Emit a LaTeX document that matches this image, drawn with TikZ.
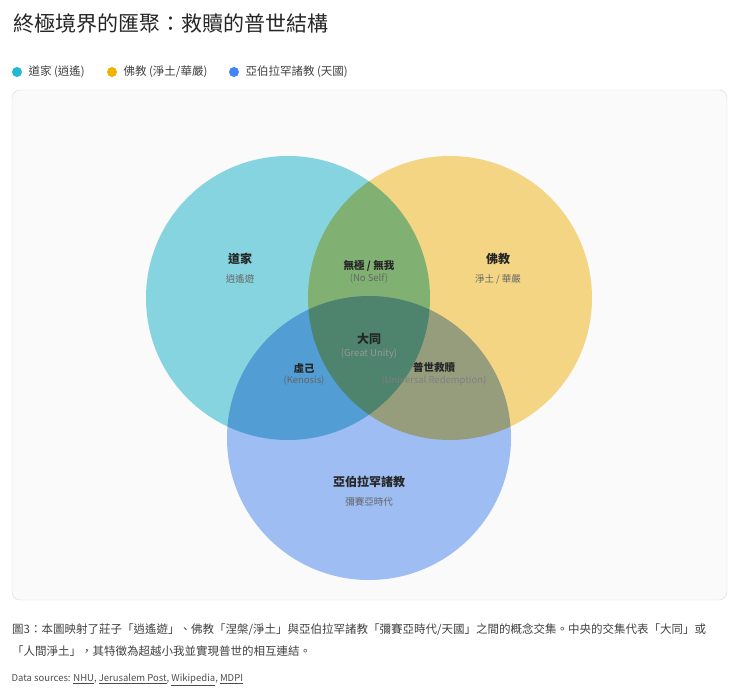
\documentclass[tikz,border=0pt]{standalone}
\usepackage{fontspec}
\setmainfont{Noto Sans CJK TC}
\XeTeXlinebreaklocale "zh"
\XeTeXlinebreakskip=0pt plus 1pt
\definecolor{cA}{RGB}{134,212,223}
\definecolor{cB}{RGB}{244,213,132}
\definecolor{cC}{RGB}{157,189,243}
\definecolor{dA}{RGB}{34,184,207}
\definecolor{dB}{RGB}{240,180,0}
\definecolor{dC}{RGB}{66,133,244}
\begin{document}
\begin{tikzpicture}[x=1pt,y=-1pt,
 lbl/.style={font=\fontsize{12}{14}\selectfont\bfseries,text=black!85},
 sub/.style={font=\fontsize{9.5}{11}\selectfont,text=black!60},
 leg/.style={font=\fontsize{11.5}{13}\selectfont,text=black!75,anchor=west}]
\useasboundingbox (0,0) rectangle (740,689);
\node[anchor=west,font=\fontsize{21}{25}\selectfont,text=black!85] (title) at (10,24) {終極境界的匯聚：救贖的普世結構};
\fill[dA] (17,72) circle (5); \node[leg] (l1) at (25,72) {道家 (逍遙)};
\fill[dB] (112,72) circle (5); \node[leg] (l2) at (120,72) {佛教 (淨土/華嚴)};
\fill[dC] (234,72) circle (5); \node[leg] (l3) at (242,72) {亞伯拉罕諸教 (天國)};
\draw[black!15,fill=black!2,rounded corners=8] (12,90) rectangle (727,600);
\begin{scope}[blend group=multiply]
\fill[cA] (288,298) circle (142);
\fill[cB] (450,298) circle (142);
\fill[cC] (369,438) circle (142);
\end{scope}
\node[lbl] (a) at (240,259) {道家}; \node[sub] (a2) at (240,279) {逍遙遊};
\node[lbl] (b) at (498,259) {佛教}; \node[sub] (b2) at (498,279) {淨土 / 華嚴};
\node[lbl] (c) at (369,482) {亞伯拉罕諸教}; \node[sub] (c2) at (369,502) {彌賽亞時代};
\node[lbl,font=\fontsize{10.5}{12}\selectfont\bfseries] (ab) at (369,266) {無極 / 無我}; \node[sub] (ab2) at (369,279) {(No Self)};
\node[lbl] (m) at (369,339) {大同}; \node[sub,text=black!40] (m2) at (369,354) {(Great Unity)};
\node[lbl,font=\fontsize{10.5}{12}\selectfont\bfseries] (ac) at (304,368) {虛己}; \node[sub] (ac2) at (304,381) {(Kenosis)};
\node[lbl,font=\fontsize{10.5}{12}\selectfont\bfseries] (bc) at (434,368) {普世救贖}; \node[sub,text=black!50] (bc2) at (434,381) {(Universal Redemption)};
\node[anchor=north west,inner sep=0,font=\fontsize{11.5}{22}\selectfont,text=black!75] (cap) at (12,623) {\parbox{716pt}{\raggedright 圖3：本圖映射了莊子「逍遙遊」、佛教「涅槃/淨土」與亞伯拉罕諸教「彌賽亞時代/天國」之間的概念交集。中央的交集代表「大同」或「人間淨土」，其特徵為超越小我並實現普世的相互連結。}};
\node[anchor=west,font=\fontsize{9.5}{11}\selectfont,text=black!70] (src) at (8,680) {Data sources: \underline{NHU}, \underline{Jerusalem Post}, \underline{Wikipedia}, \underline{MDPI}};
\end{tikzpicture}
\end{document}
